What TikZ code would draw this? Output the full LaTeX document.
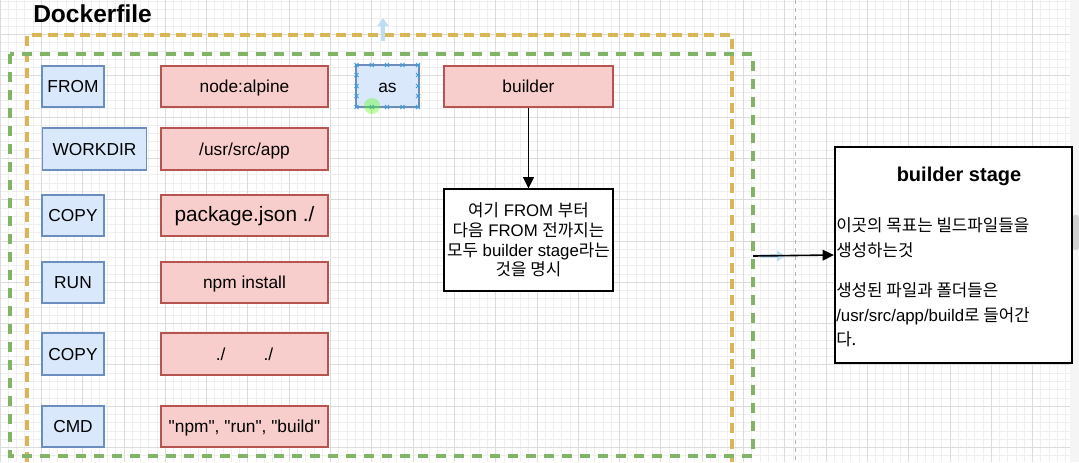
\documentclass[tikz,border=0pt]{standalone}
\usepackage{fontspec}
\setmainfont{Liberation Sans}
\newfontfamily\plainarial{Liberation Sans}
\newfontfamily\kr{Noto Sans CJK KR}
\newcommand{\K}[1]{{\kr #1}}
\usetikzlibrary{arrows.meta}
\definecolor{bfill}{HTML}{DAE8FC}
\definecolor{bline}{HTML}{6C8EBF}
\definecolor{rfill}{HTML}{F8CECC}
\definecolor{rline}{HTML}{B85450}
\definecolor{yline}{HTML}{D6B656}
\definecolor{gline}{HTML}{82B366}
\definecolor{minorg}{HTML}{EFEFEF}
\definecolor{majorg}{HTML}{DCDCDC}
\definecolor{selb}{HTML}{3D9BDB}
\definecolor{ghost}{HTML}{BEDDF2}
\tikzset{
  boxtext/.style={inner sep=0pt, text height=0.9em, text depth=0pt, font=\fontsize{13}{15}\selectfont},
  bluebox/.style={boxtext, draw=bline, fill=bfill, line width=0.9pt},
  redbox/.style={boxtext, draw=rline, fill=rfill, line width=0.9pt},
  notebox/.style={draw=black, fill=white, line width=0.8pt, inner sep=0pt},
  minorgrid/.style={draw=minorg, line width=0.5pt},
  majorgrid/.style={draw=majorg, line width=0.6pt},
  conn/.style={draw=black, line width=1.2pt, -{Triangle[length=8.5pt,width=8pt]}},
  selmark/.style={draw=selb, line width=0.6pt},
  stageline/.style={anchor=base west, inner sep=0pt, font=\fontsize{12.6}{15}\selectfont},
}
\begin{document}
\begin{tikzpicture}[x=0.75pt,y=-0.75pt]
\useasboundingbox (0,0) rectangle (1079,462);
\fill[white] (0,0) rectangle (1079,462);
% grid
\foreach \i in {0,...,130} { \draw[minorgrid] ({\i*8.26},0) -- ({\i*8.26},462); }
\foreach \j in {0,...,56} { \draw[minorgrid] (0,{1.36+\j*8.26}) -- (1070,{1.36+\j*8.26}); }
\foreach \i in {0,...,26} { \draw[majorgrid] ({\i*41.3},0) -- ({\i*41.3},462); }
\foreach \j in {0,...,11} { \draw[majorgrid] (0,{-6.9+\j*41.3}) -- (1070,{-6.9+\j*41.3}); }
% page break line
\draw[gray!60, dashed, line width=0.6pt] (795,0) -- (795,462);
% scrollbar
\fill[black!4] (1070,0) rectangle (1079,462);
\fill[black!18, rounded corners=2pt] (1072,215) rectangle (1079,250);

% title
\node[anchor=base west, inner sep=0pt, font=\bfseries\fontsize{18.4}{20}\selectfont] (title) at (33,22) {Dockerfile};

% dashed containers
\draw[yline, line width=2.3pt, dash pattern=on 7.5pt off 4.5pt] (27,462) -- (27,35) -- (732,35) -- (732,462);
\draw[gline, line width=3pt, dash pattern=on 7.5pt off 6pt] (10,54) rectangle (753,456);
\coordinate (gright) at (753,256);

% ghost arrows (editor hints)
\draw[ghost, line width=2.5pt, -{Triangle[length=6pt,width=8pt]}] (383,41) -- (383,18);
\draw[ghost, line width=2.5pt, -{Triangle[length=6pt,width=8pt]}] (760,256) -- (785,256);

% instruction boxes
\node[bluebox, minimum width=62*0.75pt, minimum height=41*0.75pt] (from1) at (73,86.5) {FROM};
\node[bluebox, minimum width=104*0.75pt, minimum height=42*0.75pt] (workdir) at (94.5,149) {WORKDIR};
\node[bluebox, minimum width=62*0.75pt, minimum height=41*0.75pt] (copy1) at (73,215.5) {COPY};
\node[bluebox, minimum width=62*0.75pt, minimum height=41*0.75pt] (run) at (73,282.5) {RUN};
\node[bluebox, minimum width=62*0.75pt, minimum height=42*0.75pt] (copy2) at (73,354) {COPY};
\node[bluebox, minimum width=62*0.75pt, minimum height=41*0.75pt] (cmd) at (73,426.5) {CMD};

% argument boxes
\node[redbox, minimum width=167*0.75pt, minimum height=41*0.75pt] (alpine) at (244.5,86.5) {node:alpine};
\node[redbox, minimum width=167*0.75pt, minimum height=42*0.75pt] (usr) at (244.5,149) {/usr/src/app};
\node[redbox, minimum width=167*0.75pt, minimum height=41*0.75pt, font=\fontsize{15.6}{17}\selectfont] (pkg) at (244.5,215.5) {package.json ./};
\node[redbox, minimum width=167*0.75pt, minimum height=41*0.75pt] (npmi) at (244.5,282.5) {npm install};
\node[redbox, minimum width=167*0.75pt, minimum height=42*0.75pt] (dots) at (244.5,354) {./\hspace{2.2em}./};
\node[redbox, minimum width=167*0.75pt, minimum height=41*0.75pt] (npmrun) at (244.5,426.5) {\plainarial "npm", "run", "build"};

% as / builder
\node[bluebox, minimum width=63*0.75pt, minimum height=42*0.75pt] (as) at (387.5,86) {as};
\foreach \x in {356.5,371.8,387,402.5,418} {
  \draw[selmark] (\x-2,63) -- (\x+2,67) (\x-2,67) -- (\x+2,63);
  \draw[selmark] (\x-2,105) -- (\x+2,109) (\x-2,109) -- (\x+2,105);
}
\foreach \y in {75,86,96} {
  \draw[selmark] (354.5,\y-2) -- (358.5,\y+2) (354.5,\y+2) -- (358.5,\y-2);
  \draw[selmark] (416,\y-2) -- (420,\y+2) (416,\y+2) -- (420,\y-2);
}
\fill[green!60!lime, opacity=0.35] (372,106) circle (8);
\node[redbox, minimum width=169*0.75pt, minimum height=41*0.75pt] (builder) at (528.5,86.5) {builder};

% note box
\node[notebox, minimum width=169*0.75pt, minimum height=102*0.75pt, align=center,
      font=\fontsize{12.6}{14.8}\selectfont] (note) at (528.5,240)
  {\K{여기} FROM \K{부터}\\ \K{다음} FROM \K{전까지는}\\ \K{모두} builder stage\K{라는}\\ \K{것을 명시}};
\draw[conn] (builder.south) -- (note.north);

% builder stage box
\node[draw=black, fill=white, line width=1.6pt, minimum width=237*0.75pt, minimum height=216*0.75pt, inner sep=0pt] (stage) at (953.5,255) {};
\node[anchor=base, inner sep=0pt, font=\bfseries\fontsize{15}{17}\selectfont] (stagetitle) at (959,181) {builder stage};
\node[stageline] (l1) at (836,231) {\K{이곳의 목표는 빌드파일들을}};
\node[stageline] (l2) at (836,256) {\K{생성하는것}};
\node[stageline] (l3) at (836,296) {\K{생성된 파일과 폴더들은}};
\node[stageline] (l4) at (836,321) {/usr/src/app/build\K{로 들어간}};
\node[stageline] (l5) at (836,345) {\K{다.}};
\draw[conn] (gright) -- (stage.west);
\end{tikzpicture}
\end{document}
